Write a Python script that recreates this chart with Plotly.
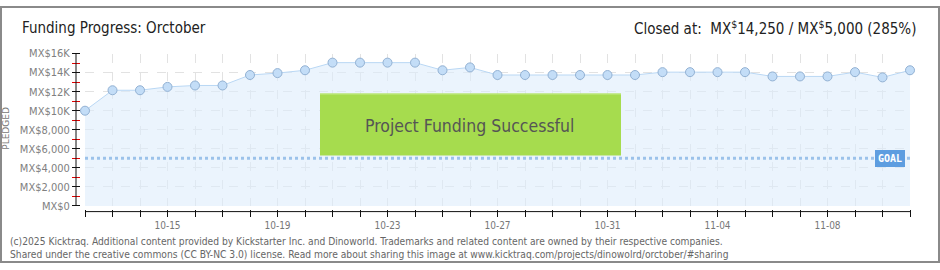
import plotly.graph_objects as go

dates = ["2025-10-12", "2025-10-13", "2025-10-14", "2025-10-15", "2025-10-16", "2025-10-17",
         "2025-10-18", "2025-10-19", "2025-10-20", "2025-10-21", "2025-10-22", "2025-10-23",
         "2025-10-24", "2025-10-25", "2025-10-26", "2025-10-27", "2025-10-28", "2025-10-29",
         "2025-10-30", "2025-10-31", "2025-11-01", "2025-11-02", "2025-11-03", "2025-11-04",
         "2025-11-05", "2025-11-06", "2025-11-07", "2025-11-08", "2025-11-09", "2025-11-10",
         "2025-11-11"]
pledged = [10000, 12150, 12150, 12500, 12650, 12650, 13750, 13950, 14250, 15050, 15050, 15050,
           15050, 14250, 14550, 13750, 13750, 13750, 13750, 13750, 13750, 14050, 14050, 14050,
           14050, 13600, 13600, 13600, 14050, 13500, 14250]
goal = 5000
x_labels = {"2025-10-15": "10-15", "2025-10-19": "10-19", "2025-10-23": "10-23",
            "2025-10-27": "10-27", "2025-10-31": "10-31", "2025-11-04": "11-04",
            "2025-11-08": "11-08"}
y_tick_vals = [0, 2000, 4000, 6000, 8000, 10000, 12000, 14000, 16000]
y_tick_text = ["MX$0", "MX$2,000", "MX$4,000", "MX$6,000", "MX$8,000", "MX$10K", "MX$12K", "MX$14K", "MX$16K"]

W, H = 940, 270
FONT = "Liberation Sans Narrow, DejaVu Sans Condensed, sans-serif"

def px(x):
    return x / W

def py(y):
    return (H - y) / H

fig = go.Figure()
fig.add_trace(go.Scatter(
    x=dates, y=pledged, mode="lines+markers",
    line=dict(color="#b9d7f4", width=1),
    fill="tozeroy", fillcolor="rgba(222,236,251,0.6)",
    marker=dict(size=9, color="#c3ddf7", line=dict(color="#92b1d3", width=1)),
    cliponaxis=False, hoverinfo="skip", showlegend=False,
))

fig.update_layout(
    width=W, height=H, margin=dict(l=0, r=0, t=0, b=0),
    paper_bgcolor="white", plot_bgcolor="white",
    font=dict(family=FONT, color="#777"),
    xaxis=dict(
        type="date", domain=[px(85), px(910)], range=[dates[0], dates[-1]],
        anchor="free", position=py(213),
        tickmode="array", tickvals=dates, ticktext=[x_labels.get(d, "") for d in dates],
        ticks="outside", ticklen=7, tickcolor="#111", tickwidth=1,
        showline=False, showgrid=True, gridcolor="#e2e2e2", griddash="dash", gridwidth=1,
        tickfont=dict(size=10, color="#777"), zeroline=False,
    ),
    yaxis=dict(
        domain=[py(210), py(50)], range=[0, 16000],
        anchor="free", position=px(80),
        tickmode="array", tickvals=y_tick_vals, ticktext=y_tick_text,
        ticks="outside", ticklen=8, tickcolor="#111", tickwidth=1,
        minor=dict(dtick=1000, tick0=0, ticks="outside", ticklen=8, tickcolor="#e00000", tickwidth=1, showgrid=False),
        showline=False, showgrid=True, gridcolor="#e2e2e2", griddash="dash", gridwidth=1,
        tickfont=dict(size=11, color="#808080"), zeroline=False,
    ),
)

shapes = [
    # frame
    dict(type="rect", xref="paper", yref="paper", x0=px(1), x1=px(939), y0=py(269), y1=py(1),
         line=dict(color="#8a8a8a", width=2), fillcolor="rgba(0,0,0,0)", layer="above"),
    # y axis line
    dict(type="line", xref="paper", yref="paper", x0=px(76), x1=px(76), y0=py(210), y1=py(50),
         line=dict(color="#111", width=1)),
    # x axis line
    dict(type="line", xref="paper", yref="paper", x0=px(85), x1=px(910), y0=py(216), y1=py(216),
         line=dict(color="#111", width=1)),
    # goal line
    dict(type="line", xref="x", yref="y", x0=dates[0], x1=dates[-1], y0=goal, y1=goal,
         line=dict(color="#9cc2ea", width=3, dash="dot")),
    # success box
    dict(type="rect", xref="paper", yref="paper", x0=px(320), x1=px(621), y0=py(157), y1=py(92),
         fillcolor="#a6dc4e", line=dict(width=0), layer="above"),
    dict(type="line", xref="paper", yref="paper", x0=px(320), x1=px(621), y0=py(92.5), y1=py(92.5),
         line=dict(color="#c4ea85", width=1), layer="above"),
]
fig.update_layout(shapes=shapes)

annotations = [
    dict(text="Funding Progress: Orctober", xref="paper", yref="paper", x=px(20), y=py(23),
         xanchor="left", yanchor="middle", showarrow=False, font=dict(size=15, color="#222", family=FONT)),
    dict(text="Closed at:  MX<sup>$</sup>14,250 / MX<sup>$</sup>5,000 (285%)", xref="paper", yref="paper",
         x=px(918), y=py(23), xanchor="right", yanchor="middle", showarrow=False,
         font=dict(size=15, color="#222", family=FONT)),
    dict(text="Project Funding Successful", xref="paper", yref="paper", x=px(469), y=py(126),
         xanchor="center", yanchor="middle", showarrow=False, font=dict(size=17.5, color="#555", family=FONT)),
    dict(text="<b>GOAL</b>", xref="x", yref="y", x=dates[-1], y=goal, xanchor="right", yanchor="middle",
         xshift=-5, showarrow=False, bgcolor="#5d9de0", bordercolor="#5d9de0", borderpad=2,
         font=dict(size=10, color="white", family="DejaVu Sans Mono")),
    dict(text="PLEDGED", xref="paper", yref="paper", x=px(6), y=py(129), textangle=-90,
         xanchor="center", yanchor="middle", showarrow=False, font=dict(size=9, color="#777", family="DejaVu Sans")),
    dict(text="(c)2025 Kicktraq. Additional content provided by Kickstarter Inc. and Dinoworld. Trademarks and related content are owned by their respective companies.<br>"
              "Shared under the creative commons (CC BY-NC 3.0) license. Read more about sharing this image at www.kicktraq.com/projects/dinowolrd/orctober/#sharing",
         xref="paper", yref="paper", x=px(8), y=py(254), xanchor="left", yanchor="middle", align="left",
         showarrow=False, font=dict(size=10.2, color="#666", family="DejaVu Sans Condensed, sans-serif")),
]
fig.update_layout(annotations=annotations)

fig.write_html("out.html")
